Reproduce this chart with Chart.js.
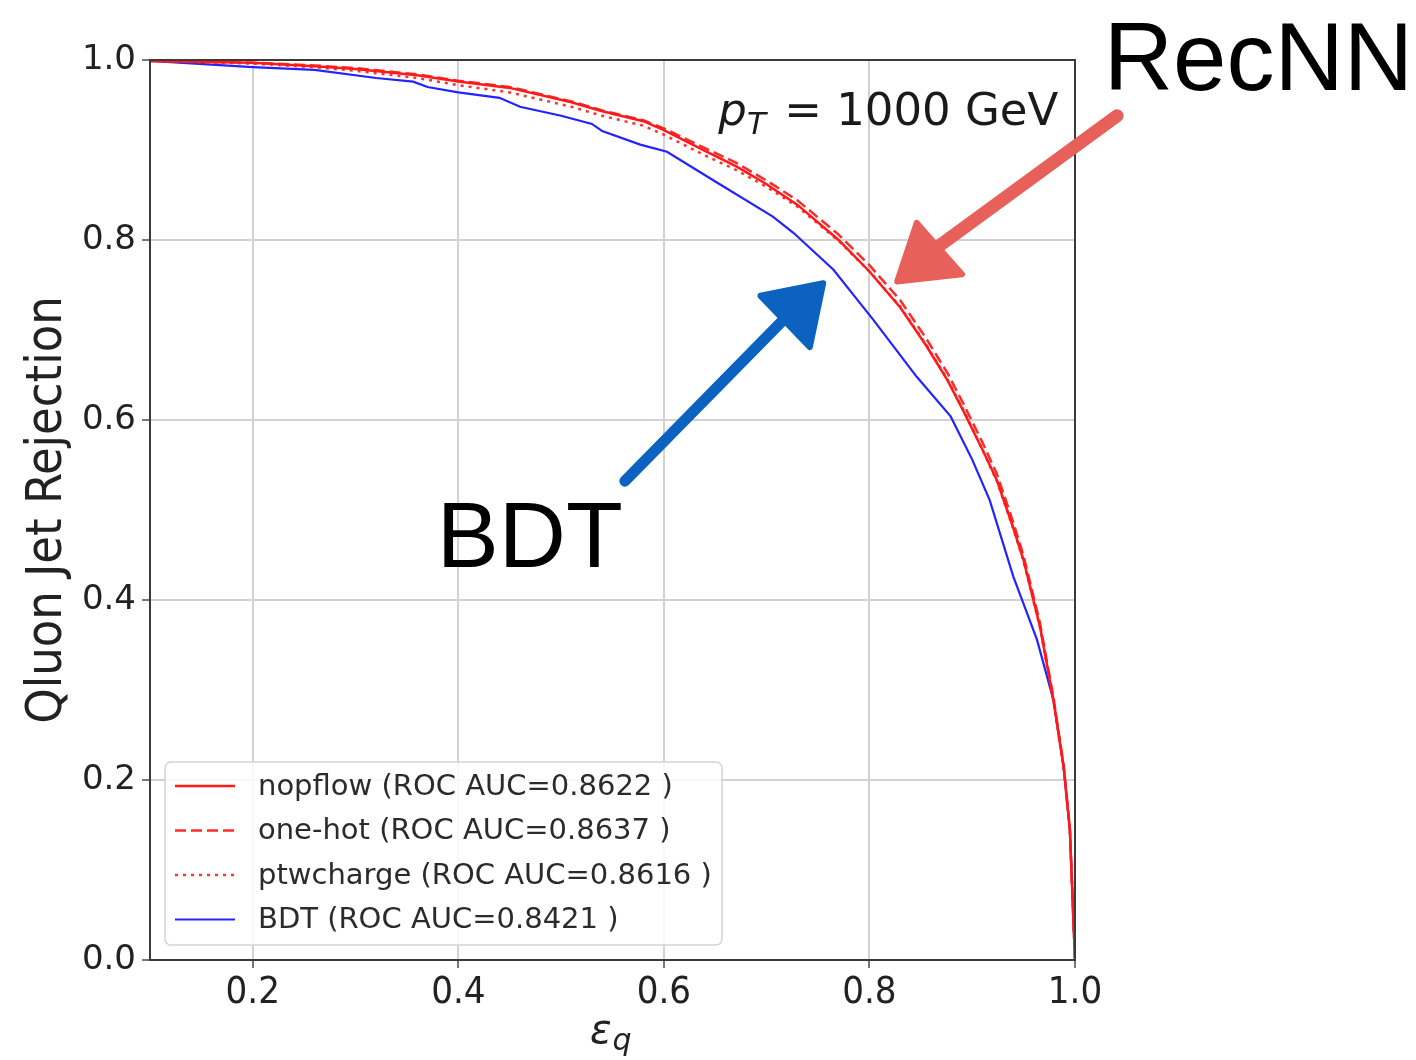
<!DOCTYPE html>
<html lang="en">
<head>
<title>ROC curves</title>
<style>
  body { margin: 0; background: #fff; }
</style>
</head>
<body>
<canvas id="roc" width="1416" height="1060"></canvas>

<script src="https://cdn.jsdelivr.net/npm/chart.js"></script>
<script>

// quark efficiency (x) and gluon rejection (y)
var nopflowX = [0.1, 0.2, 0.26, 0.30, 0.36, 0.40, 0.45, 0.51, 0.54, 0.58, 0.60, 0.64, 0.67, 0.70, 0.73, 0.77, 0.80, 0.83, 0.855, 0.876, 0.891, 0.91, 0.924, 0.94, 0.95, 0.966, 0.979, 0.989, 0.995, 1.0];
var nopflowY = [0.999, 0.997, 0.993, 0.990, 0.983, 0.976, 0.969, 0.953, 0.943, 0.932, 0.922, 0.899, 0.882, 0.862, 0.839, 0.800, 0.765, 0.725, 0.683, 0.644, 0.611, 0.567, 0.533, 0.480, 0.444, 0.370, 0.289, 0.214, 0.145, 0.0];

var onehotX = [0.1, 0.2, 0.26, 0.30, 0.36, 0.40, 0.45, 0.51, 0.54, 0.58, 0.60, 0.64, 0.67, 0.70, 0.73, 0.77, 0.80, 0.83, 0.855, 0.876, 0.891, 0.91, 0.924, 0.94, 0.95, 0.966, 0.979, 0.989, 0.995, 1.0];
var onehotY = [0.999, 0.997, 0.994, 0.991, 0.984, 0.977, 0.970, 0.954, 0.944, 0.933, 0.924, 0.902, 0.886, 0.866, 0.844, 0.806, 0.772, 0.733, 0.691, 0.652, 0.619, 0.575, 0.540, 0.486, 0.449, 0.374, 0.292, 0.216, 0.146, 0.0];

var ptwchargeX = [0.1, 0.2, 0.26, 0.30, 0.36, 0.40, 0.45, 0.51, 0.54, 0.58, 0.60, 0.64, 0.67, 0.70, 0.73, 0.77, 0.80, 0.83, 0.855, 0.876, 0.891, 0.91, 0.924, 0.94, 0.95, 0.966, 0.979, 0.989, 0.995, 1.0];
var ptwchargeY = [0.999, 0.996, 0.992, 0.988, 0.980, 0.972, 0.964, 0.948, 0.938, 0.927, 0.917, 0.894, 0.878, 0.859, 0.837, 0.799, 0.765, 0.726, 0.684, 0.645, 0.612, 0.567, 0.532, 0.479, 0.443, 0.369, 0.288, 0.213, 0.144, 0.0];

var bdtX = [0.1, 0.2, 0.26, 0.32, 0.356, 0.37, 0.40, 0.44, 0.46, 0.50, 0.53, 0.54, 0.577, 0.603, 0.65, 0.706, 0.726, 0.765, 0.804, 0.846, 0.879, 0.90, 0.917, 0.94, 0.963, 0.979, 0.989, 0.995, 1.0];
var bdtY = [0.999, 0.992, 0.989, 0.980, 0.976, 0.970, 0.964, 0.958, 0.948, 0.938, 0.929, 0.921, 0.906, 0.898, 0.865, 0.826, 0.808, 0.767, 0.711, 0.648, 0.604, 0.556, 0.511, 0.426, 0.356, 0.289, 0.214, 0.145, 0.0];

var seriesLabels = [
    "nopflow (ROC AUC=0.8622 )",
    "one-hot (ROC AUC=0.8637 )",
    "ptwcharge (ROC AUC=0.8616 )",
    "BDT (ROC AUC=0.8421 )"
];

var xTicks = [0.2, 0.4, 0.6, 0.8, 1.0];
var yTicks = [0.0, 0.2, 0.4, 0.6, 0.8, 1.0];


function toPoints(xs, ys) {
    var pts = [];
    for (var i = 0; i < xs.length; i++) {
        pts.push({x: xs[i], y: ys[i]});
    }
    return pts;
}

function drawArrow(ctx, color, shaft, head, width) {
    ctx.save();
    ctx.strokeStyle = color;
    ctx.fillStyle = color;
    ctx.lineWidth = width;
    ctx.lineCap = "round";
    ctx.beginPath();
    ctx.moveTo(shaft[0][0], shaft[0][1]);
    ctx.lineTo(shaft[1][0], shaft[1][1]);
    ctx.stroke();
    ctx.lineJoin = "round";
    ctx.lineWidth = 6;
    ctx.beginPath();
    ctx.moveTo(head[0][0], head[0][1]);
    ctx.lineTo(head[1][0], head[1][1]);
    ctx.lineTo(head[2][0], head[2][1]);
    ctx.closePath();
    ctx.fill();
    ctx.stroke();
    ctx.restore();
}

// frame, legend, labels and the hand drawn arrows
const extras = {
    id: "extras",
    afterDatasetsDraw(chart) {
        const ctx = chart.ctx;
        const a = chart.chartArea;
        ctx.save();
        ctx.strokeStyle = "#3a3a3a";
        ctx.lineWidth = 2;
        ctx.strokeRect(a.left, a.top, a.right - a.left, a.bottom - a.top);
        ctx.restore();
    },
    afterDraw(chart) {
        const ctx = chart.ctx;
        const a = chart.chartArea;
        const xs = chart.scales.x, ys = chart.scales.y;
        const px = v => xs.getPixelForValue(v);
        const py = v => ys.getPixelForValue(v);

        // legend box
        var bx = a.left + 15, by = a.bottom - 198, bw = 557, bh = 183;
        ctx.save();
        ctx.fillStyle = "rgba(255,255,255,0.85)";
        ctx.strokeStyle = "#d4d4d4";
        ctx.lineWidth = 1.5;
        ctx.beginPath();
        ctx.roundRect(bx, by, bw, bh, 6);
        ctx.fill();
        ctx.stroke();
        ctx.font = "29px 'DejaVu Sans'";
        ctx.textBaseline = "middle";
        chart.data.datasets.forEach(function(ds, i) {
            var ry = by + 24 + i * 44.5;
            ctx.strokeStyle = ds.borderColor;
            ctx.lineWidth = ds.borderWidth;
            ctx.setLineDash(ds.borderDash || []);
            ctx.beginPath();
            ctx.moveTo(bx + 10, ry);
            ctx.lineTo(bx + 70, ry);
            ctx.stroke();
            ctx.setLineDash([]);
            ctx.fillStyle = "#2b2b2b";
            ctx.fillText(ds.label, bx + 93, ry + 1);
        });
        ctx.restore();

        // x axis title: epsilon_q
        ctx.save();
        ctx.fillStyle = "#222";
        ctx.textBaseline = "alphabetic";
        ctx.font = "italic 40px 'DejaVu Sans'";
        var ew = ctx.measureText("ε").width;
        var cx = (a.left + a.right) / 2;
        ctx.fillText("ε", cx - ew - 1, 1043);
        ctx.font = "italic 30px 'DejaVu Sans'";
        ctx.fillText("q", cx, 1050);
        ctx.restore();

        // p_T = 1000 GeV
        ctx.save();
        ctx.fillStyle = "#1a1a1a";
        ctx.textBaseline = "alphabetic";
        var tx = px(0.653), ty = py(0.928);
        ctx.font = "italic 45px 'DejaVu Sans'";
        ctx.fillText("p", tx, ty);
        tx += ctx.measureText("p").width;
        ctx.font = "italic 31px 'DejaVu Sans'";
        ctx.fillText("T", tx, ty + 9);
        tx += ctx.measureText("T").width;
        ctx.font = "45px 'DejaVu Sans'";
        ctx.fillText(" = 1000 GeV", tx + 4, ty);
        ctx.restore();

        // arrows
        drawArrow(ctx, "#e8605a",
            [[px(1.041), py(0.938)], [px(0.866), py(0.792)]],
            [[px(0.827), py(0.754)], [px(0.846), py(0.819)], [px(0.890), py(0.762)]], 13);
        drawArrow(ctx, "#0b62c0",
            [[px(0.562), py(0.532)], [px(0.722), py(0.718)]],
            [[px(0.755), py(0.752)], [px(0.694), py(0.738)], [px(0.742), py(0.681)]], 11);

        // big annotations
        ctx.save();
        ctx.fillStyle = "#000";
        ctx.textBaseline = "alphabetic";
        ctx.font = "96px 'Liberation Sans'";
        ctx.fillText("RecNN", px(1.028), py(0.967));
        ctx.font = "93px 'Liberation Sans'";
        ctx.fillText("BDT", px(0.379), py(0.437));
        ctx.restore();
    }
};

new Chart(document.getElementById("roc"), {
    type: "line",
    data: {
        datasets: [
            {
                label: seriesLabels[0],
                data: toPoints(nopflowX, nopflowY),
                borderColor: "#ff1a1a",
                borderWidth: 2.5
            },
            {
                label: seriesLabels[1],
                data: toPoints(onehotX, onehotY),
                borderColor: "#ff2a2a",
                borderWidth: 2.5,
                borderDash: [11, 5]
            },
            {
                label: seriesLabels[2],
                data: toPoints(ptwchargeX, ptwchargeY),
                borderColor: "#ff3030",
                borderWidth: 2.5,
                borderDash: [3, 5]
            },
            {
                label: seriesLabels[3],
                data: toPoints(bdtX, bdtY),
                borderColor: "#2323ff",
                borderWidth: 2.2
            }
        ]
    },
    options: {
        responsive: false,
        animation: false,
        devicePixelRatio: 1,
        parsing: false,
        elements: {
            point: { radius: 0 },
            line: { tension: 0, fill: false }
        },
        layout: {
            padding: { left: 0, right: 341, top: 60, bottom: 0 }
        },
        plugins: {
            legend: { display: false },
            tooltip: { enabled: false }
        },
        scales: {
            x: {
                type: "linear",
                min: 0.1,
                max: 1.0,
                afterBuildTicks: function(scale) {
                    scale.ticks = xTicks.map(v => ({value: v}));
                },
                afterFit: function(scale) { scale.height = 100; },
                ticks: {
                    callback: v => v.toFixed(1),
                    font: { family: "'DejaVu Sans Condensed', 'DejaVu Sans'", size: 38 },
                    color: "#222",
                    padding: 2,
                    maxRotation: 0
                },
                grid: { color: "#d2d2d2", lineWidth: 2, tickLength: 8, tickColor: "#777" },
                border: { display: false }
            },
            y: {
                type: "linear",
                min: 0,
                max: 1,
                afterBuildTicks: function(scale) {
                    scale.ticks = yTicks.map(v => ({value: v}));
                },
                afterFit: function(scale) { scale.width = 150; },
                ticks: {
                    callback: v => v.toFixed(1),
                    font: { family: "'DejaVu Sans'", size: 34 },
                    color: "#222",
                    padding: 6
                },
                title: {
                    display: true,
                    text: "Qluon Jet Rejection",
                    font: { family: "'DejaVu Sans Condensed', 'DejaVu Sans'", size: 50 },
                    color: "#222",
                    padding: { top: 18, bottom: 0 }
                },
                grid: { color: "#d2d2d2", lineWidth: 2, tickLength: 8, tickColor: "#777" },
                border: { display: false }
            }
        }
    },
    plugins: [extras]
});

</script>
</body>
</html>
